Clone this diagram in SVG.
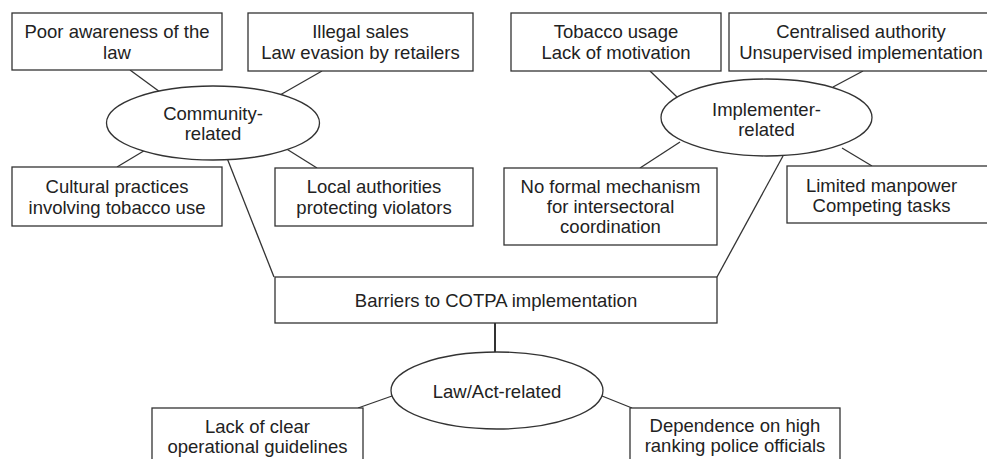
<svg xmlns="http://www.w3.org/2000/svg" width="987" height="459" viewBox="0 0 987 459">
<style>
.box{fill:#fff;stroke:#333;stroke-width:1.3}
.ell{fill:#fff;stroke:#333;stroke-width:1.3}
.lbl{font-family:"Liberation Sans",Arial,sans-serif;font-size:18.5px;fill:#222;text-anchor:middle}
.conn line{stroke:#333;stroke-width:1.3}
</style>
<rect width="987" height="459" fill="#fff"/>
<g class="conn" id="connectors">
<line x1="130" y1="70" x2="160" y2="92"/>
<line x1="322" y1="71" x2="280" y2="95"/>
<line x1="117" y1="167" x2="147" y2="149"/>
<line x1="317" y1="168" x2="285" y2="148"/>
<line x1="227" y1="158" x2="274" y2="277"/>
<line x1="650" y1="71" x2="677" y2="97"/>
<line x1="863" y1="71" x2="833" y2="87"/>
<line x1="640" y1="168" x2="680" y2="142"/>
<line x1="872" y1="166" x2="842" y2="148"/>
<line x1="783" y1="156" x2="717" y2="277"/>
<line x1="495" y1="323" x2="495" y2="352" style="stroke-width:2"/>
<line x1="358" y1="408" x2="392" y2="396"/>
<line x1="602" y1="396" x2="632" y2="408"/>
</g>
<g id="poor"><rect class="box" x="12" y="13" width="210" height="57"/><text class="lbl" x="117" y="38">Poor awareness of the<tspan x="117" dy="21">law</tspan></text></g>
<g id="illegal"><rect class="box" x="248" y="13" width="225" height="58"/><text class="lbl" x="360.5" y="38">Illegal sales<tspan x="360.5" dy="21">Law evasion by retailers</tspan></text></g>
<g id="community"><ellipse class="ell" cx="213" cy="123" rx="106.5" ry="37"/><text class="lbl" x="213" y="120">Community-<tspan x="213" dy="20">related</tspan></text></g>
<g id="cultural"><rect class="box" x="12" y="167" width="210" height="59"/><text class="lbl" x="117" y="193">Cultural practices<tspan x="117" dy="21">involving tobacco use</tspan></text></g>
<g id="local"><rect class="box" x="275" y="168" width="198" height="58"/><text class="lbl" x="374" y="193">Local authorities<tspan x="374" dy="21">protecting violators</tspan></text></g>
<g id="tobacco"><rect class="box" x="511" y="13" width="210" height="58"/><text class="lbl" x="616" y="38">Tobacco usage<tspan x="616" dy="21">Lack of motivation</tspan></text></g>
<g id="centralised"><rect class="box" x="729" y="13" width="270" height="58"/><text class="lbl" x="861" y="38">Centralised authority<tspan x="861" dy="21">Unsupervised implementation</tspan></text></g>
<g id="implementer"><ellipse class="ell" cx="766.5" cy="117.5" rx="105.5" ry="38.5"/><text class="lbl" x="766.5" y="116">Implementer-<tspan x="766.5" dy="20">related</tspan></text></g>
<g id="noformal"><rect class="box" x="504" y="168" width="213" height="77"/><text class="lbl" x="610.5" y="193">No formal mechanism<tspan x="610.5" dy="20">for intersectoral</tspan><tspan x="610.5" dy="20">coordination</tspan></text></g>
<g id="limited"><rect class="box" x="787" y="166" width="210" height="57"/><text class="lbl" x="881.5" y="191.5">Limited manpower<tspan x="881.5" dy="20.5">Competing tasks</tspan></text></g>
<g id="barriers"><rect class="box" x="275" y="277" width="442" height="46"/><text class="lbl" x="496" y="306.5">Barriers to COTPA implementation</text></g>
<g id="law"><ellipse class="ell" cx="497" cy="390.5" rx="106" ry="38.5"/><text class="lbl" x="497" y="398">Law/Act-related</text></g>
<g id="lack"><rect class="box" x="152" y="408" width="211" height="70"/><text class="lbl" x="257.5" y="433">Lack of clear<tspan x="257.5" dy="20">operational guidelines</tspan></text></g>
<g id="dependence"><rect class="box" x="630" y="408" width="210" height="70"/><text class="lbl" x="735" y="432">Dependence on high<tspan x="735" dy="20">ranking police officials</tspan></text></g>
</svg>
